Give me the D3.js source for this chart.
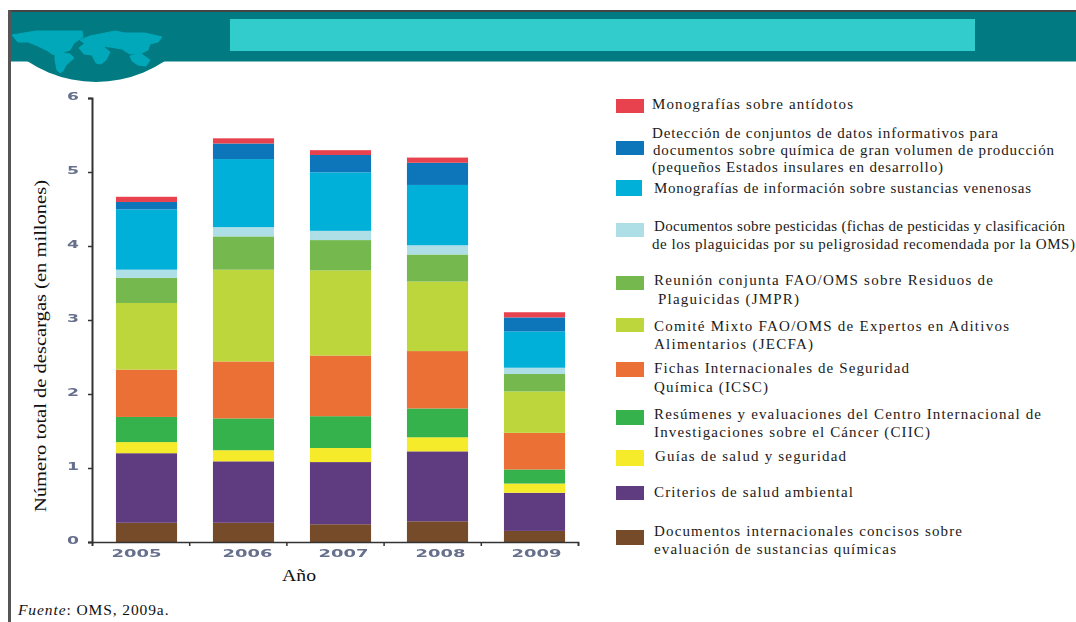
<!DOCTYPE html>
<html><head><meta charset="utf-8">
<script src="https://cdn.jsdelivr.net/npm/d3@7/dist/d3.min.js"></script>
<style>html,body{margin:0;padding:0;background:#fff;overflow:hidden}svg{display:block}</style>
</head><body><svg id="c" width="1076" height="622"></svg>
<script>
const years = ["2005","2006","2007","2008","2009"];
const yTickLabels = [0,1,2,3,4,5,6];
const yTitle = "Número total de descargas (en millones)";
const xTitle = "Año";
// stacked bottom to top
const brown  = [0.26,0.26,0.24,0.28,0.15];
const purple = [0.94,0.83,0.84,0.945,0.515];
const yellow = [0.15,0.15,0.19,0.19,0.125];
const green  = [0.34,0.43,0.43,0.39,0.19];
const orange = [0.64,0.77,0.82,0.775,0.495];
const lime   = [0.90,1.24,1.15,0.94,0.56];
const jmpr   = [0.34,0.45,0.41,0.365,0.235];
const pale   = [0.11,0.125,0.125,0.125,0.085];
const cyan   = [0.815,0.92,0.79,0.815,0.49];
const blue   = [0.10,0.21,0.235,0.30,0.19];
const red    = [0.07,0.07,0.065,0.07,0.07];
const seriesValues = [brown,purple,yellow,green,orange,lime,jmpr,pale,cyan,blue,red];
const seriesColors = ["#754c29","#5f3a80","#f6eb2a","#36b24b","#eb7035","#bdd63a","#75b84e","#aedfe6","#00b0d8","#0e76bb","#e8424f"];
const legendColors = ["#e8424f","#0e76bb","#00b0d8","#aedfe6","#75b84e","#bdd63a","#eb7035","#36b24b","#f6eb2a","#5f3a80","#754c29"];
const legendLabels = [
 ["Monografías sobre antídotos"],
 ["Detección de conjuntos de datos informativos para","documentos sobre química de gran volumen de producción","(pequeños Estados insulares en desarrollo)"],
 ["Monografías de información sobre sustancias venenosas"],
 ["Documentos sobre pesticidas (fichas de pesticidas y clasificación","de los plaguicidas por su peligrosidad recomendada por la OMS)"],
 ["Reunión conjunta FAO/OMS sobre Residuos de","Plaguicidas (JMPR)"],
 ["Comité Mixto FAO/OMS de Expertos en Aditivos","Alimentarios (JECFA)"],
 ["Fichas Internacionales de Seguridad","Química (ICSC)"],
 ["Resúmenes y evaluaciones del Centro Internacional de","Investigaciones sobre el Cáncer (CIIC)"],
 ["Guías de salud y seguridad"],
 ["Criterios de salud ambiental"],
 ["Documentos internacionales concisos sobre","evaluación de sustancias químicas"]
];
const sourceLabel = "OMS, 2009a.";

// ---- layout
const swatches = [[616,99,28,14],[616,141,28,14],[616,180,26,16],[616,223,28,14],[616,276,28,14],[616,318,28,14],[616,362,28,15],[616,410,28,15],[616,450,28,16],[616,486,28,14],[616,530,28,15]];
const legendLayout = [
 [[652,109,853]],
 [[652,138,998],[653,155,1054],[652,172,943]],
 [[654,193,1031]],
 [[654,231,1065],[652,249,1075]],
 [[654,285,993],[658,304,799]],
 [[654,331,1009],[654,349,813]],
 [[654,373,909],[654,392,768]],
 [[654,419,1041],[654,437,930]],
 [[655,461,846]],
 [[654,497,853]],
 [[654,536,962],[654,554,896]]
];
const labelNudge = [-10,4,3,3,2];
const mapShapes = [
 [[12,35],[18,34],[36,31],[50,31],[82,31],[83,37],[74,43],[70,50],[64,52],[60,55],[52,54],[48,51],[38,46],[28,42],[18,42]],
 [[55,52],[70,54],[74,58],[66,65],[63,71],[60,73],[57,70],[55,60]],
 [[80,40],[90,36],[100,34],[115,31],[125,33],[145,33],[162,37],[158,42],[150,44],[148,50],[142,53],[130,54],[122,49],[110,47],[100,46],[85,44]],
 [[79,48],[85,43],[100,44],[110,52],[106,60],[101,64],[96,63],[92,55],[84,54]],
 [[130,56],[140,53],[150,60],[146,66],[138,65],[132,61]]
];

const svg = d3.select("#c");
const defs = svg.append("defs");
defs.append("filter").attr("id","soft").append("feGaussianBlur").attr("stdDeviation",0.6);
defs.append("filter").attr("id","soft2").append("feGaussianBlur").attr("stdDeviation",0.3);
defs.append("clipPath").attr("id","below").append("rect").attr("x",0).attr("y",60).attr("width",400).attr("height",40);

// header
svg.append("rect").attr("x",10).attr("y",11).attr("width",1066).attr("height",50).attr("fill","#027a82");
svg.append("rect").attr("x",10).attr("y",61).attr("width",1066).attr("height",1).attr("fill","#7fbcc0");
svg.append("rect").attr("x",10).attr("y",10).attr("width",1066).attr("height",2).attr("fill","#444");
svg.append("rect").attr("x",230).attr("y",19).attr("width",745).attr("height",32).attr("fill","#33cccc");
svg.append("circle").attr("cx",96).attr("cy",-42).attr("r",124).attr("fill","#027a82").attr("clip-path","url(#below)");
svg.append("rect").attr("x",8).attr("y",10).attr("width",3).attr("height",612).attr("fill","#555");
svg.append("g").attr("filter","url(#soft)").selectAll("path").data(mapShapes).join("path")
  .attr("d",d=>d3.line()(d)+"Z").attr("fill","#02a8ba").attr("stroke","#02a8ba").attr("stroke-width",1);

// scales
const x = d3.scaleBand().domain(years).range([98,583]).paddingInner(0.37).paddingOuter(0.185);
const xEdge = d3.scaleLinear().domain([0,5]).range([92,578]);
const y = d3.scaleLinear().domain([0,6]).range([542,98]);

// bars
const rows = years.map((yr,i)=>{const o={year:yr};seriesValues.forEach((s,k)=>o["s"+k]=s[i]);return o;});
const stack = d3.stack().keys(seriesValues.map((_,k)=>"s"+k))(rows);
svg.append("g").attr("filter","url(#soft2)").selectAll("g").data(stack).join("g")
  .attr("fill",(d,i)=>seriesColors[i])
  .selectAll("rect").data(d=>d).join("rect")
  .attr("x",d=>x(d.data.year)).attr("width",x.bandwidth())
  .attr("y",d=>y(d[1])).attr("height",d=>y(d[0])-y(d[1]));

// axes
const yAxis = svg.append("g").attr("transform","translate(92,0)")
  .call(d3.axisLeft(y).tickValues(yTickLabels).tickSize(4).tickPadding(9).tickFormat(d3.format("d")));
yAxis.select(".domain").attr("stroke","#333").attr("stroke-width",2);
yAxis.selectAll(".tick line").attr("stroke","#333").attr("stroke-width",1.5);
yAxis.selectAll("text").attr("font-family","'DejaVu Sans',sans-serif").attr("font-weight","bold")
  .attr("font-size",10.5).attr("fill","#666f8c").attr("dy","0.15em").attr("filter","url(#soft)")
  .attr("textLength",12).attr("lengthAdjust","spacingAndGlyphs");

const xTicks = svg.append("g").attr("transform","translate(0,542)")
  .call(d3.axisBottom(xEdge).ticks(5).tickSize(4).tickSizeOuter(4).tickFormat(""));
xTicks.select(".domain").attr("stroke","#333").attr("stroke-width",1.6);
xTicks.selectAll(".tick line").attr("stroke","#333").attr("stroke-width",1.5);

const xLabels = svg.append("g").attr("transform","translate(0,542)")
  .call(d3.axisBottom(x).tickSize(0).tickPadding(8));
xLabels.select(".domain").remove();
xLabels.selectAll("text").attr("font-family","'DejaVu Sans',sans-serif").attr("font-weight","bold")
  .attr("font-size",10.5).attr("fill","#666f8c").attr("filter","url(#soft)")
  .attr("dx",(d,i)=>labelNudge[i]).attr("textLength",50).attr("lengthAdjust","spacingAndGlyphs");

const serif = "'Liberation Serif','Times New Roman',serif";
svg.append("text").attr("transform","translate(46,346) rotate(-90)").attr("text-anchor","middle")
  .attr("font-family",serif).attr("font-size",17.5).attr("textLength",332).attr("lengthAdjust","spacingAndGlyphs").attr("fill","#111").text(yTitle);
svg.append("text").attr("x",282).attr("y",581).attr("font-family",serif).attr("font-size",17.5).attr("textLength",34).attr("lengthAdjust","spacingAndGlyphs").attr("fill","#111").text(xTitle);
const src = svg.append("text").attr("x",18).attr("y",615).attr("font-family",serif).attr("font-size",15.5).attr("letter-spacing",0.9).attr("fill","#111");
src.append("tspan").attr("font-style","italic").text("Fuente");
src.append("tspan").text(": "+sourceLabel);

// legend
svg.append("g").attr("filter","url(#soft2)").selectAll("rect").data(legendColors).join("rect")
  .attr("x",(d,i)=>swatches[i][0]).attr("y",(d,i)=>swatches[i][1])
  .attr("width",(d,i)=>swatches[i][2]).attr("height",(d,i)=>swatches[i][3]).attr("fill",d=>d);
const lg = svg.append("g").attr("font-family",serif).attr("font-size",15).attr("fill","#1a1a1a");
legendLabels.forEach((lines,i)=>lines.forEach((t,j)=>{
  const p = legendLayout[i][j];
  lg.append("text").attr("x",p[0]).attr("y",p[1]).attr("textLength",p[2]-p[0])
    .attr("lengthAdjust","spacing").text(t);
}));
</script></body></html>
